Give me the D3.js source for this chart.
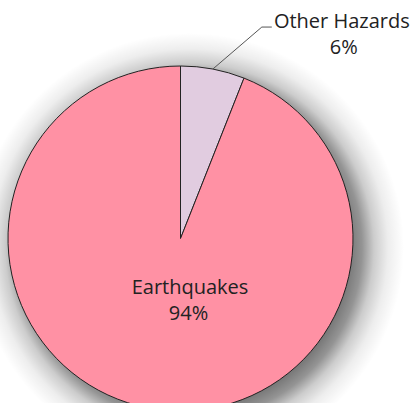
<!DOCTYPE html>
<html>
<head>
<meta charset="utf-8">
<style>
  html, body { margin: 0; padding: 0; background: #fff; }
  text { font-family: "Open Sans", sans-serif; fill: #222; }
</style>
</head>
<body>
<div id="chart"></div>
<script src="https://d3js.org/d3.v7.min.js"></script>
<script>
    const categories = ['Other Hazards', 'Earthquakes'];
    const values = [6, 94];
    const colors = ['#E1CCE0', '#FF91A4'];

    const W = 415, H = 403;
    const cx = 180.5, cy = 238.5, R = 172.5;
    const blur = 42;

    const svg = d3.select('#chart').append('svg')
        .attr('width', W)
        .attr('height', H);

    // soft shadow done with a radial gradient (filters are not reliable here)
    const defs = svg.append('defs');
    const grad = defs.append('radialGradient').attr('id', 'shadow')
        .attr('gradientUnits', 'userSpaceOnUse')
        .attr('cx', 0).attr('cy', 0).attr('r', R + blur);
    const T = R + blur;
    [[0, 0.6], [(R - 20) / T, 0.6], [R / T, 0.42], [(R + 12) / T, 0.2], [(R + 26) / T, 0.07], [1, 0]].forEach(s => {
        grad.append('stop').attr('offset', s[0]).attr('stop-color', '#000').attr('stop-opacity', s[1]);
    });

    const g = svg.append('g').attr('transform', `translate(${cx},${cy})`);

    const pie = d3.pie().sort(null).value(d => d);
    const arcs = pie(values);
    const arc = d3.arc().innerRadius(0).outerRadius(R);

    g.append('circle')
        .attr('transform', 'translate(9,9)')
        .attr('r', R + blur)
        .attr('fill', 'url(#shadow)');

    g.selectAll('path.slice')
        .data(arcs)
        .enter()
        .append('path')
        .attr('class', 'slice')
        .attr('d', arc)
        .attr('fill', (d, i) => colors[i])
        .attr('stroke', '#222')
        .attr('stroke-width', 1);

    // leader line for the small slice
    const small = arcs[0];
    const a = (small.startAngle + small.endAngle) / 2;
    const p0 = [R * Math.sin(a), -R * Math.cos(a)];
    const p1 = [p0[0] + 49, p0[1] - 42];
    const p2 = [p1[0] + 10, p1[1]];
    g.append('polyline')
        .attr('points', [p0, p1, p2].map(p => p.join(',')).join(' '))
        .attr('fill', 'none')
        .attr('stroke', '#555')
        .attr('stroke-width', 1);

    const lbl = g.append('text')
        .attr('font-size', 20)
        .attr('text-anchor', 'middle');
    lbl.append('tspan').attr('x', p2[0] + 70).attr('y', p2[1] + 1).text(categories[0]);
    lbl.append('tspan').attr('x', p2[0] + 72).attr('y', p2[1] + 27).text(values[0] + '%');

    const lbl2 = g.append('text')
        .attr('font-size', 20)
        .attr('text-anchor', 'middle');
    lbl2.append('tspan').attr('x', 9.5).attr('y', 55.5).text(categories[1]);
    lbl2.append('tspan').attr('x', 8).attr('y', 81.5).text(values[1] + '%');
</script>
</body>
</html>
